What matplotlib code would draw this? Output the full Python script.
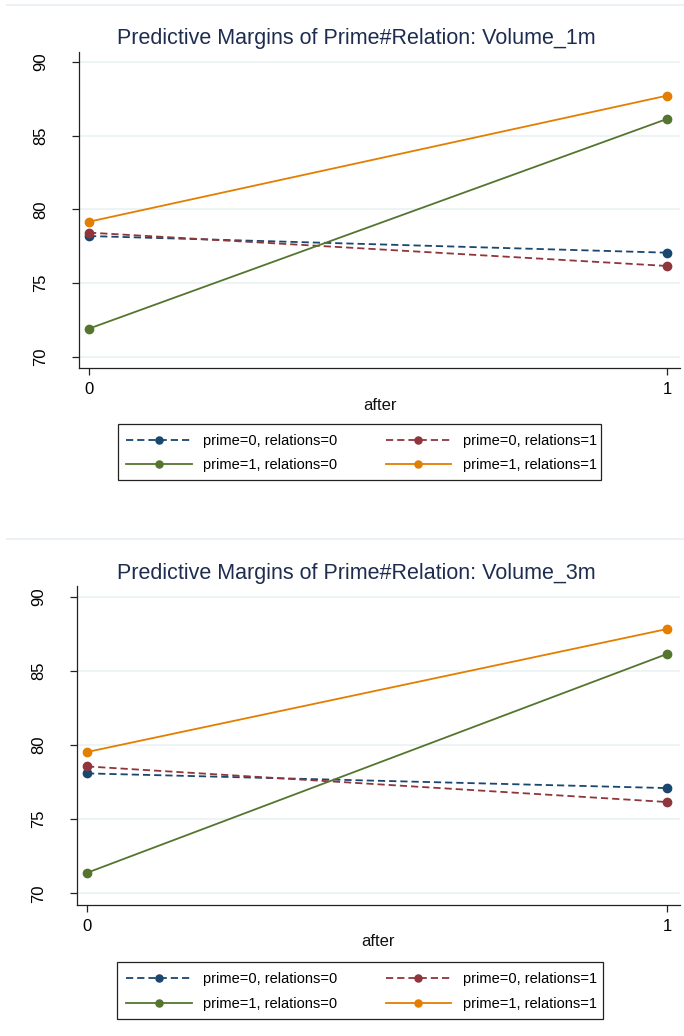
import matplotlib
matplotlib.use("Agg")
import matplotlib.pyplot as plt
from matplotlib.lines import Line2D
from matplotlib.patches import Rectangle

plt.rcParams['font.family'] = ['Liberation Sans', 'DejaVu Sans']

after = [0, 1]
labels = ["prime=0, relations=0", "prime=0, relations=1",
          "prime=1, relations=0", "prime=1, relations=1"]
titles = ["Predictive Margins of Prime#Relation: Volume_1m",
          "Predictive Margins of Prime#Relation: Volume_3m"]

# Volume_1m
v1_p0r0 = [78.2, 77.07]
v1_p0r1 = [78.43, 76.17]
v1_p1r0 = [71.92, 86.14]
v1_p1r1 = [79.17, 87.72]
# Volume_3m
v3_p0r0 = [78.09, 77.1]
v3_p0r1 = [78.56, 76.16]
v3_p1r0 = [71.39, 86.14]
v3_p1r1 = [79.53, 87.82]

yticks = [70, 75, 80, 85, 90]
xticks = [0, 1]

colors = ["#1a476f", "#90353b", "#55752f", "#e37e00"]
styles = [(0, (4, 2.2)), (0, (4, 2.2)), "-", "-"]

W, H = 684, 1036
fig = plt.figure(figsize=(W / 100, H / 100), dpi=100)

def box(l, t, r, b):
    return [l / W, 1 - b / H, (r - l) / W, (b - t) / H]

panels = [
    dict(series=[v1_p0r0, v1_p0r1, v1_p1r0, v1_p1r1], title=titles[0],
         ax=(79, 52, 680, 368), ylim=(69.25, 90.68), xlim=(-0.0173, 1.0225),
         title_y=44, xlabel_y=405, leg=(118, 424, 601, 480), leg_x=126, topline=5),
    dict(series=[v3_p0r0, v3_p0r1, v3_p1r0, v3_p1r1], title=titles[1],
         ax=(77, 586, 680, 905), ylim=(69.22, 90.72), xlim=(-0.0172, 1.0224),
         title_y=579, xlabel_y=942, leg=(117, 962, 603, 1019), leg_x=126, topline=539),
]

for p in panels:
    # faint outer border line of each sub-graph
    fig.add_artist(Line2D([7 / W, 1], [1 - p["topline"] / H] * 2,
                          color="#e8eff2", lw=1.2, transform=fig.transFigure))
    ax = fig.add_axes(box(*p["ax"]))
    ax.set_xlim(*p["xlim"])
    ax.set_ylim(*p["ylim"])
    handles = []
    for s, c, ls, lab in zip(p["series"], colors, styles, labels):
        h, = ax.plot(after, s, color=c, linestyle=ls, lw=1.3, marker="o",
                     markersize=6, label=lab, clip_on=False, zorder=3)
        handles.append(h)
    ax.set_yticks(yticks)
    ax.set_xticks(xticks)
    ax.set_yticklabels([str(v) for v in yticks], rotation=90, va="center")
    ax.tick_params(axis="both", labelsize=12, length=5, width=0.9,
                   color="#222222", direction="out")
    ax.tick_params(axis="y", pad=17)
    ax.tick_params(axis="x", pad=5)
    ax.grid(axis="y", color="#eaf2f3", lw=1.2, zorder=0)
    ax.set_axisbelow(True)
    for sp in ["top", "right"]:
        ax.spines[sp].set_visible(False)
    for sp in ["left", "bottom"]:
        ax.spines[sp].set_linewidth(0.9)
        ax.spines[sp].set_color("#222222")
    fig.text(356 / W, 1 - p["title_y"] / H, p["title"],
             ha="center", va="baseline", fontsize=15.5, color="#1e2d4f")
    fig.text((p["ax"][0] + p["ax"][2]) / 2 / W, 1 - p["xlabel_y"] / H, "after",
             ha="center", va="center", fontsize=12, color="#111111")
    l, t, r, b = p["leg"]
    fig.add_artist(Rectangle((l / W, 1 - b / H), (r - l) / W, (b - t) / H,
                             transform=fig.transFigure, fill=False,
                             edgecolor="#222222", lw=0.9))
    order = [0, 2, 1, 3]
    fig.legend(handles=[handles[i] for i in order],
               labels=[labels[i] for i in order], ncol=2,
               loc="center left",
               bbox_to_anchor=(p["leg_x"] / W, 1 - ((t + b) / 2 + 1) / H),
               frameon=False, fontsize=10.5, numpoints=1, borderpad=0,
               borderaxespad=0,
               handlelength=4.5, handletextpad=0.8, columnspacing=3.3,
               labelspacing=0.7, markerscale=0.85)

fig.savefig("out.png", dpi=100, facecolor="white")
